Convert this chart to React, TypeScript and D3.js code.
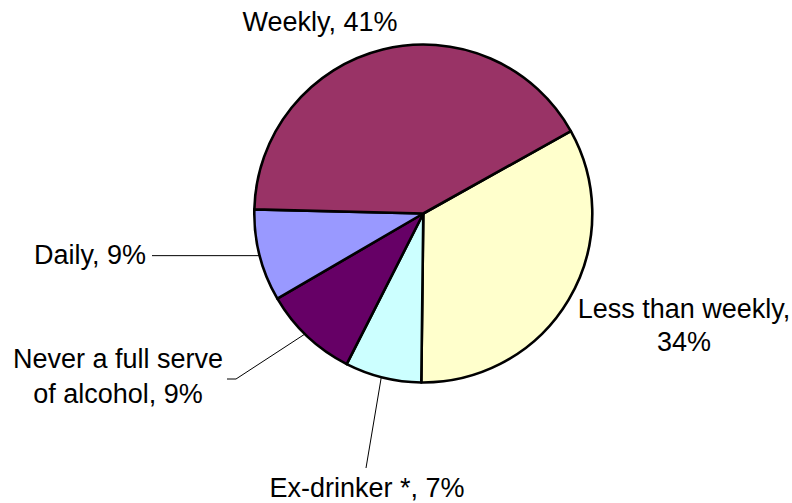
import React from "react";
import * as d3 from "d3";

const categories = ["Less than weekly", "Ex-drinker *", "Never a full serve of alcohol", "Daily", "Weekly"];
const values = [33.3, 7.3, 9.1, 8.8, 41.5];
const pctLabels = ["34%", "7%", "9%", "9%", "41%"];
const colors = ["#FFFFCC", "#CCFFFF", "#660066", "#9999FF", "#993366"];

const W = 792;
const H = 503;
const cx = 423.3;
const cy = 213.5;
const R = 169;
const startDeg = 60.8;

export default function App() {
  const pie = d3
    .pie<number>()
    .sort(null)
    .value((d) => d)
    .startAngle((startDeg * Math.PI) / 180)
    .endAngle(((startDeg + 360) * Math.PI) / 180);
  const arcs = pie(values);
  const arcGen = d3.arc<d3.PieArcDatum<number>>().innerRadius(0).outerRadius(R);

  const font = "'Liberation Sans', Arial, sans-serif";
  const fs = 27;
  const pt = (a: number, r: number) => [cx + r * Math.sin(a), cy - r * Math.cos(a)];
  const mid = (i: number) => (arcs[i].startAngle + arcs[i].endAngle) / 2;

  const exRim = pt(mid(1) + 0.01, R);
  const neverRim = pt(mid(2) + 0.02, R);
  const dailyRim = pt(mid(3), R);

  return (
    <svg width={W} height={H} style={{ position: "absolute", left: 0, top: 0, background: "#fff" }}>
      <g>
        {arcs.map((a, i) => (
          <path key={categories[i]} d={arcGen(a) || ""} transform={`translate(${cx},${cy})`} fill={colors[i]} stroke="#000" strokeWidth={2.6} strokeLinejoin="round" />
        ))}
      </g>
      <g fill="none" stroke="#000" strokeWidth={1}>
        <polyline points={`152,${dailyRim[1]} ${dailyRim[0]},${dailyRim[1]}`} />
        <polyline points={`227,379 236,379 ${neverRim[0]},${neverRim[1]}`} />
        <polyline points={`366,468 ${exRim[0]},${exRim[1]}`} />
      </g>
      <g fontFamily={font} fontSize={fs} fill="#000">
        <text x={320} y={31} textAnchor="middle">{`${categories[4]}, ${pctLabels[4]}`}</text>
        <text x={146} y={264} textAnchor="end">{`${categories[3]}, ${pctLabels[3]}`}</text>
        <text x={118} y={368} textAnchor="middle">Never a full serve</text>
        <text x={118} y={403} textAnchor="middle">{`of alcohol, ${pctLabels[2]}`}</text>
        <text x={367} y={497} textAnchor="middle">{`${categories[1]}, ${pctLabels[1]}`}</text>
        <text x={684} y={318} textAnchor="middle">{`${categories[0]},`}</text>
        <text x={684} y={351} textAnchor="middle">{pctLabels[0]}</text>
      </g>
    </svg>
  );
}
